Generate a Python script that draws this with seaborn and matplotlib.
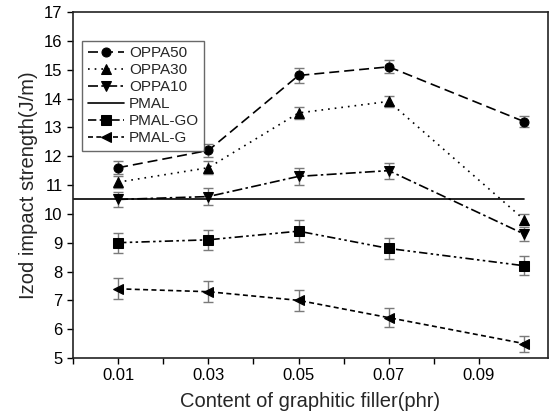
import matplotlib
matplotlib.use("Agg")
import matplotlib.pyplot as plt
import seaborn as sns
import numpy as np
import pandas as pd

x = [0.01, 0.03, 0.05, 0.07, 0.10]
oppa50 = [11.6, 12.2, 14.8, 15.1, 13.2]
oppa50_err = [0.22, 0.22, 0.25, 0.22, 0.2]
oppa30 = [11.1, 11.6, 13.5, 13.9, 9.8]
oppa30_err = [0.22, 0.22, 0.2, 0.18, 0.2]
oppa10 = [10.5, 10.6, 11.3, 11.5, 9.3]
oppa10_err = [0.25, 0.3, 0.3, 0.28, 0.25]
pmal_value = 10.5
pmal_x = [0.0, 0.10]
pmal_go = [9.0, 9.1, 9.4, 8.8, 8.2]
pmal_go_err = [0.35, 0.35, 0.38, 0.35, 0.33]
pmal_g = [7.4, 7.3, 7.0, 6.4, 5.5]
pmal_g_err = [0.36, 0.36, 0.36, 0.33, 0.28]

sns.set_style("ticks")
plt.rcParams['font.family'] = ['Liberation Sans', 'DejaVu Sans']

fig = plt.figure(figsize=(5.51, 4.15), dpi=100)
ax = fig.add_axes([0.1325, 0.1373, 0.8621, 0.8337])

series = [
    ("OPPA50", oppa50, oppa50_err, "o", (0, (6, 3))),
    ("OPPA30", oppa30, oppa30_err, "^", (0, (1, 3))),
    ("OPPA10", oppa10, oppa10_err, "v", (0, (6, 2, 1.5, 2))),
    ("PMAL", None, None, None, "-"),
    ("PMAL-GO", pmal_go, pmal_go_err, "s", (0, (5, 2, 1.5, 2, 1.5, 2))),
    ("PMAL-G", pmal_g, pmal_g_err, "<", (0, (3, 2))),
]

for name, vals, err, mk, ls in series:
    if vals is None:
        df = pd.DataFrame({"x": pmal_x, "y": [pmal_value] * len(pmal_x)})
        sns.lineplot(data=df, x="x", y="y", ax=ax, color="black", lw=1.2,
                     linestyle=ls, label=name)
        continue
    ax.errorbar(x, vals, yerr=err, fmt="none", ecolor="#7a7a7a", elinewidth=1.0,
                capsize=3.5, capthick=1.0, zorder=1)
    df = pd.DataFrame({"x": x, "y": vals})
    sns.lineplot(data=df, x="x", y="y", ax=ax, color="black", lw=1.2,
                 linestyle=ls, marker=mk, markersize=6.5, markeredgecolor="black",
                 label=name, zorder=3)

ax.set_xlim(0.0, 0.1053)
ax.set_ylim(5, 17)
ax.set_xticks([0.01, 0.03, 0.05, 0.07, 0.09])
ax.set_xticklabels(["0.01", "0.03", "0.05", "0.07", "0.09"])
ax.set_xticks([0.0, 0.02, 0.04, 0.06, 0.08], minor=True)
ax.set_yticks(range(5, 18))
ax.tick_params(axis="both", which="major", direction="out", length=4, width=1,
               labelsize=12, color="black", labelcolor="black")
ax.tick_params(axis="x", which="minor", direction="out", length=4, width=1, color="black")
for s in ax.spines.values():
    s.set_visible(True)
    s.set_color("#222222")
    s.set_linewidth(1.2)
ax.set_xlabel("Content of graphitic filler(phr)", fontsize=14.5, labelpad=6)
ax.set_ylabel("Izod impact strength(J/m)", fontsize=14.5, labelpad=4)

leg = ax.legend(loc="upper left", bbox_to_anchor=(0.01, 0.93), fontsize=11,
                frameon=True, fancybox=False, edgecolor="#444444",
                handlelength=2.4, handletextpad=0.3, labelspacing=0.2,
                borderpad=0.35, borderaxespad=0.3, markerscale=1.0)
leg.get_frame().set_linewidth(1.0)

fig.savefig("out.png", dpi=100)
